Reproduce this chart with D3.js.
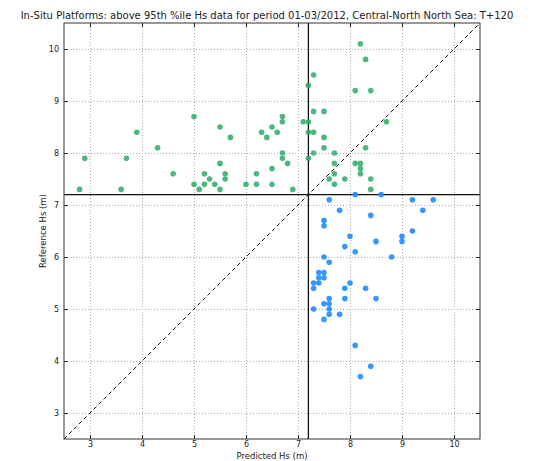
<!DOCTYPE html>
<html>
<head>
<meta charset="utf-8">
<script src="https://cdn.jsdelivr.net/npm/d3@7"></script>
<style>
  body { margin: 0; background: #fff; }
  text { font-family: "DejaVu Sans", sans-serif; fill: #222; }
</style>
</head>
<body>
<div id="chart"></div>
<script>
// puntos por encima del percentil 95 en la referencia (verde)
const aboveRef = [
  [2.8,7.3],[2.9,7.9],[3.6,7.3],[3.7,7.9],[3.9,8.4],[4.3,8.1],[4.6,7.6],
  [5.0,8.7],[5.0,7.4],[5.1,7.3],[5.2,7.6],[5.2,7.4],[5.3,7.5],[5.4,7.4],
  [5.5,8.5],[5.5,7.8],[5.5,7.3],[5.6,7.6],[5.6,7.5],[5.7,8.3],[6.0,7.4],
  [6.2,7.6],[6.2,7.4],[6.3,8.4],[6.4,8.3],[6.5,8.5],[6.5,7.7],[6.5,7.4],
  [6.6,8.4],[6.7,8.7],[6.7,8.6],[6.7,8.0],[6.7,7.9],[6.8,7.8],[6.9,7.3],
  [7.1,8.6],[7.2,9.3],[7.2,8.6],[7.2,8.4],[7.2,7.9],[7.3,9.5],[7.3,8.8],
  [7.3,8.4],[7.3,8.0],[7.5,8.8],[7.5,8.3],[7.5,8.1],[7.6,7.5],[7.7,8.0],
  [7.7,7.8],[7.7,7.6],[7.7,7.4],[7.9,7.5],[8.1,9.2],[8.1,7.8],[8.2,10.1],
  [8.2,7.8],[8.2,7.7],[8.2,7.6],[8.3,9.8],[8.3,8.1],[8.4,9.2],[8.4,7.5],
  [8.4,7.3],[8.7,8.6]
];

// puntos solo por encima en la predicción (azul)
const abovePred = [
  [8.1,7.2],[8.6,7.2],[7.6,7.1],[9.2,7.1],[9.6,7.1],[7.8,6.9],[9.4,6.9],
  [8.4,6.8],[7.5,6.7],[7.5,6.6],[9.2,6.5],[8.0,6.4],[9.0,6.4],[8.5,6.3],
  [9.0,6.3],[7.9,6.2],[8.1,6.1],[7.5,6.0],[8.8,6.0],[7.6,5.9],[7.4,5.7],
  [7.5,5.7],[7.4,5.6],[7.5,5.6],[7.3,5.5],[7.4,5.5],[8.0,5.5],[7.3,5.4],
  [7.9,5.4],[8.3,5.4],[7.6,5.2],[7.9,5.2],[8.5,5.2],[7.5,5.1],[7.6,5.1],
  [7.3,5.0],[7.6,5.0],[7.6,4.9],[7.8,4.9],[7.5,4.8],[8.1,4.3],[8.4,3.9],
  [8.2,3.7]
];

const ticks = [3, 4, 5, 6, 7, 8, 9, 10];
const domainHs = [2.5, 10.5];
const threshold = 7.2;

const width = 534, height = 461;
const mLeft = 64, mRight = 480, mTop = 23, mBottom = 439;

const svg = d3.select("#chart")
    .append("svg")
    .attr("width", width)
    .attr("height", height);

const x = d3.scaleLinear().domain(domainHs).range([mLeft, mRight]);
const y = d3.scaleLinear().domain(domainHs).range([mBottom, mTop]);

// Rejilla punteada
svg.append("g")
    .attr("transform", `translate(0, ${mBottom})`)
    .call(d3.axisBottom(x).tickValues(ticks).tickSize(-(mBottom - mTop)).tickFormat(""))
    .call(g => g.select(".domain").remove())
    .call(g => g.selectAll("line").attr("stroke", "#aaa").attr("stroke-dasharray", "1,2"));

svg.append("g")
    .attr("transform", `translate(${mLeft}, 0)`)
    .call(d3.axisLeft(y).tickValues(ticks).tickSize(-(mRight - mLeft)).tickFormat(""))
    .call(g => g.select(".domain").remove())
    .call(g => g.selectAll("line").attr("stroke", "#aaa").attr("stroke-dasharray", "1,2"));

// Línea 1:1 discontinua
svg.append("line")
    .attr("x1", x(domainHs[0])).attr("y1", y(domainHs[0]))
    .attr("x2", x(domainHs[1])).attr("y2", y(domainHs[1]))
    .attr("stroke", "#111")
    .attr("stroke-width", 1)
    .attr("stroke-dasharray", "4,3");

// Umbrales
svg.append("line")
    .attr("x1", x(threshold)).attr("x2", x(threshold))
    .attr("y1", mTop).attr("y2", mBottom)
    .attr("stroke", "#111").attr("stroke-width", 1.3);

svg.append("line")
    .attr("x1", mLeft).attr("x2", mRight)
    .attr("y1", y(threshold)).attr("y2", y(threshold))
    .attr("stroke", "#111").attr("stroke-width", 1.3);

// Puntos
svg.selectAll(".verde")
    .data(aboveRef)
    .enter()
    .append("circle")
    .attr("class", "verde")
    .attr("cx", d => x(d[0]))
    .attr("cy", d => y(d[1]))
    .attr("r", 2.8)
    .attr("fill", "#2eaa6a")
    .attr("fill-opacity", 0.85);

svg.selectAll(".azul")
    .data(abovePred)
    .enter()
    .append("circle")
    .attr("class", "azul")
    .attr("cx", d => x(d[0]))
    .attr("cy", d => y(d[1]))
    .attr("r", 2.8)
    .attr("fill", "#1e8cff")
    .attr("fill-opacity", 0.9);

// Ejes con marcas hacia dentro
const fs = "8px";
function estiloEje(g) {
    g.select(".domain").remove();
    g.selectAll("line").attr("stroke", "#222");
    g.selectAll("text").style("font-size", fs);
}

svg.append("g")
    .attr("transform", `translate(0, ${mBottom})`)
    .call(d3.axisBottom(x).tickValues(ticks).tickSize(-4).tickPadding(2))
    .call(estiloEje);

svg.append("g")
    .attr("transform", `translate(${mLeft}, 0)`)
    .call(d3.axisLeft(y).tickValues(ticks).tickSize(-4).tickPadding(5))
    .call(estiloEje);

svg.append("g")
    .attr("transform", `translate(0, ${mTop})`)
    .call(d3.axisTop(x).tickValues(ticks).tickSize(-4).tickFormat(""))
    .call(estiloEje);

svg.append("g")
    .attr("transform", `translate(${mRight}, 0)`)
    .call(d3.axisRight(y).tickValues(ticks).tickSize(-4).tickFormat(""))
    .call(estiloEje);

// Marco
svg.append("rect")
    .attr("x", mLeft).attr("y", mTop)
    .attr("width", mRight - mLeft).attr("height", mBottom - mTop)
    .attr("fill", "none")
    .attr("stroke", "#333")
    .attr("stroke-width", 1);

// Títulos
svg.append("text")
    .attr("x", 267)
    .attr("y", 19)
    .style("text-anchor", "middle")
    .style("font-size", "10px")
    .text("In-Situ Platforms: above 95th %ile Hs data for period 01-03/2012, Central-North North Sea: T+120");

svg.append("text")
    .attr("x", (mLeft + mRight) / 2)
    .attr("y", 459)
    .style("text-anchor", "middle")
    .style("font-size", "8.5px")
    .text("Predicted Hs (m)");

svg.append("text")
    .attr("transform", "rotate(-90)")
    .attr("x", -(mTop + mBottom) / 2)
    .attr("y", 46)
    .style("text-anchor", "middle")
    .style("font-size", "8.5px")
    .text("Reference Hs (m)");
</script>
</body>
</html>
